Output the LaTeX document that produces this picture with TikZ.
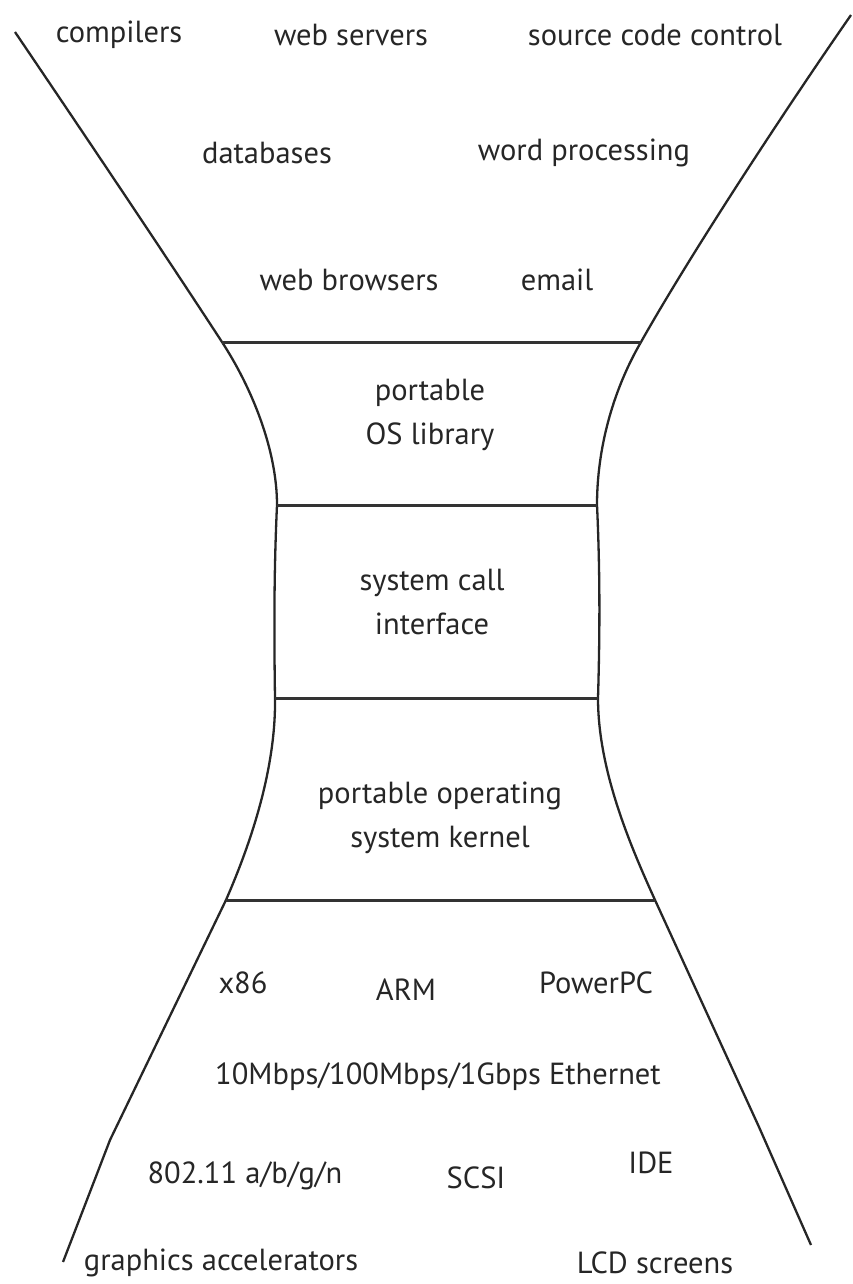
\documentclass[tikz,border=0pt]{standalone}
\usepackage{fontspec}
\setmainfont{PT Sans}
\begin{document}
\begin{tikzpicture}[x=1pt,y=-1pt,
  side/.style={line width=2.3pt, draw=black!85, line join=round},
  divider/.style={line width=3pt, draw=black!80},
  lbl/.style={font=\fontsize{30.5}{44}\selectfont, text=black!85, inner sep=0pt, align=center}]
\useasboundingbox (0,0) rectangle (852,1284);
% left side
\coordinate (L0) at (15,32);
\coordinate (L1) at (222,342);
\coordinate (L2) at (277,505);
\coordinate (L3) at (275,698);
\coordinate (L4) at (226,900);
\coordinate (LK) at (110,1140);
\coordinate (LE) at (63,1262);
% right side
\coordinate (R0) at (851,15);
\coordinate (R1) at (641,342);
\coordinate (R2) at (597,505);
\coordinate (R3) at (598,698);
\coordinate (R4) at (655,900);
\coordinate (RK) at (759,1127);
\coordinate (RE) at (811,1245);

\draw[side] (L0) .. controls (80,128) and (160,247) .. (L1)
  .. controls (252,388) and (277,450) .. (L2)
  .. controls (274,570) and (274,630) .. (L3)
  .. controls (276,770) and (250,845) .. (L4) -- (LK) -- (LE);
\draw[side] (R0) .. controls (785,110) and (690,255) .. (R1)
  .. controls (612,392) and (597,450) .. (R2)
  .. controls (600,570) and (600,630) .. (R3)
  .. controls (598,770) and (630,845) .. (R4) -- (RK) -- (RE);

\draw[divider] (L1) -- (R1);
\draw[divider] (L2) -- (R2);
\draw[divider] (L3) -- (R3);
\draw[divider] (L4) -- (R4);

\node[lbl] (comp) at (119,35) {compilers};
\node[lbl] (webs) at (351,35) {web servers};
\node[lbl] (scc) at (655,35) {source code control};
\node[lbl] (db) at (267,153) {databases};
\node[lbl] (wp) at (584,153) {word processing};
\node[lbl] (wb) at (349,280) {web browsers};
\node[lbl] (em) at (557,280) {email};
\node[lbl] (lib) at (430,415) {portable\\OS library};
\node[lbl] (sci) at (432,602) {system call\\interface};
\node[lbl] (ker) at (440,818) {portable operating\\system kernel};
\node[lbl] (x86) at (243,983) {x86};
\node[lbl] (arm) at (406,990) {ARM};
\node[lbl] (ppc) at (596,983) {PowerPC};
\node[lbl] (eth) at (438,1077) {10Mbps/100Mbps/1Gbps Ethernet};
\node[lbl] (wifi) at (245,1176) {802.11 a/b/g/n};
\node[lbl] (scsi) at (476,1178) {SCSI};
\node[lbl] (ide) at (651,1163) {IDE};
\node[lbl] (gfx) at (221,1263) {graphics accelerators};
\node[lbl] (lcd) at (655,1263) {LCD screens};
\end{tikzpicture}
\end{document}
